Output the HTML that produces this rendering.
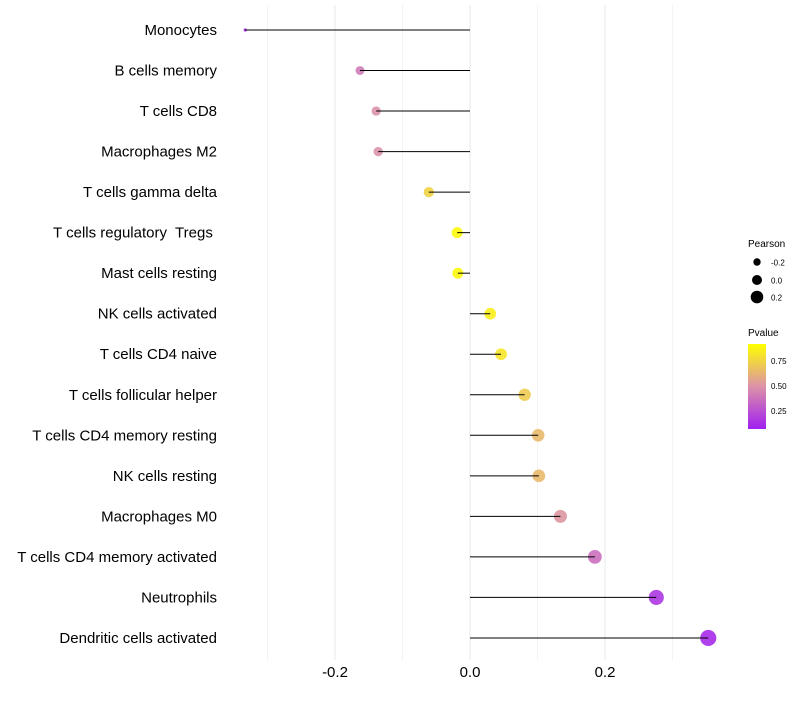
<!DOCTYPE html>
<html><head><meta charset="utf-8"><style>
body{margin:0;background:#fff;font-family:"Liberation Sans",sans-serif}
</style></head><body>
<svg id="chart" width="800" height="700" xmlns="http://www.w3.org/2000/svg" font-family="Liberation Sans, sans-serif">
<g id="grid"></g>
<g id="points"></g>
<g id="marks"></g>
<g id="ylabels"></g>
<g id="xlabels"></g>
<g>
<text x="748" y="247" font-size="10">Pearson</text>
<circle cx="757" cy="262" r="3.7" fill="#000"/>
<text x="771" y="265.5" font-size="8">-0.2</text>
<circle cx="757" cy="280" r="5" fill="#000"/>
<text x="771" y="283.5" font-size="8">0.0</text>
<circle cx="757" cy="297" r="6.3" fill="#000"/>
<text x="771" y="300.5" font-size="8">0.2</text>
</g>
<g>
<defs><linearGradient id="pg" x1="0" y1="1" x2="0" y2="0">
<stop offset="0" stop-color="#A020F0"/><stop offset="0.5" stop-color="#DC92A8"/><stop offset="1" stop-color="#FFFF00"/></linearGradient></defs>
<text x="748" y="336" font-size="10">Pvalue</text>
<rect x="748" y="344" width="18" height="85" fill="url(#pg)"/>
<text x="771" y="364" font-size="8">0.75</text>
<text x="771" y="389" font-size="8">0.50</text>
<text x="771" y="414" font-size="8">0.25</text>
</g>
</svg>
<script>
const categories=["Monocytes","B cells memory","T cells CD8","Macrophages M2","T cells gamma delta","T cells regulatory  Tregs ","Mast cells resting","NK cells activated","T cells CD4 naive","T cells follicular helper","T cells CD4 memory resting","NK cells resting","Macrophages M0","T cells CD4 memory activated","Neutrophils","Dendritic cells activated"];
const pearson=[-0.333,-0.163,-0.139,-0.136,-0.061,-0.019,-0.018,0.030,0.046,0.081,0.101,0.102,0.134,0.185,0.276,0.353];
const pvalues=[0.03,0.4,0.5,0.5,0.8,0.97,0.97,0.92,0.88,0.76,0.68,0.68,0.52,0.35,0.1,0.05];
const xTicks=[-0.2,0,0.2];
const xTickLabels=["-0.2","0.0","0.2"];
const gridVals=[-0.3,-0.2,-0.1,0,0.1,0.2,0.3];
const NS="http://www.w3.org/2000/svg";
const xs=v=>470+v*675;
const ys=i=>30+i*40.53;
const rs=v=>v<-0.2?Math.max(1.5,4.3+(v+0.2)*20):5.6+7*v;
function mix(a,b,t){return a.map((c,i)=>Math.round(c+(b[i]-c)*t));}
function col(p){const lo=[160,32,240],mid=[220,146,168],hi=[255,255,0];
 const c=p<0.5?mix(lo,mid,p/0.5):mix(mid,hi,(p-0.5)/0.5);return `rgb(${c})`;}
function el(t,a,parent){const e=document.createElementNS(NS,t);for(const k in a)e.setAttribute(k,a[k]);document.getElementById(parent).appendChild(e);return e;}
gridVals.forEach(v=>{const l=el('line',{x1:xs(v),x2:xs(v),y1:5,y2:660,stroke:'#ebebeb','stroke-width':Math.round(Math.abs(v*10))%2===1?0.6:1.1},'grid');

});
categories.forEach((c,i)=>{
 const y=ys(i);
 const p=el('circle',{cx:xs(pearson[i]),cy:y,r:rs(pearson[i]),fill:col(pvalues[i]),'fill-opacity':0.9},'points');
 
 
 const s=el('line',{x1:xs(0),x2:xs(pearson[i]),y1:y,y2:y,stroke:'#000','stroke-width':1},'marks');
 
 
 const t=el('text',{x:217,y:y+5,'font-size':15,'text-anchor':'end',fill:'#000'},'ylabels');
 t.setAttribute('xml:space','preserve');
 t.style.whiteSpace='pre';
 t.textContent=c;
 
 
});
xTicks.forEach((v,i)=>{const t=el('text',{x:xs(v),y:677,'font-size':15,'text-anchor':'middle',fill:'#000'},'xlabels');
 t.textContent=xTickLabels[i];
 
 });
</script>
</body></html>
